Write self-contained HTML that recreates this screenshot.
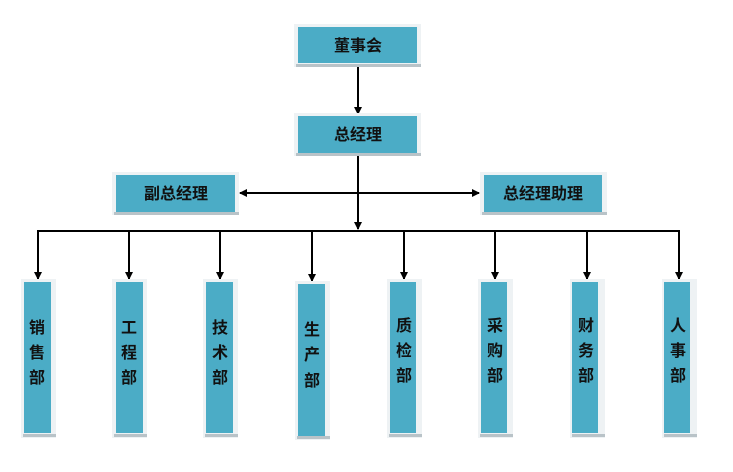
<!DOCTYPE html>
<html><head><meta charset="utf-8"><style>
html,body{margin:0;padding:0;background:#fff;}
svg{display:block;}
text{font-family:"Liberation Sans","Noto Sans CJK SC",sans-serif;font-weight:bold;fill:#111;}
</style></head><body>
<svg width="733" height="472" viewBox="0 0 733 472" xmlns="http://www.w3.org/2000/svg">
<defs>
<marker id="a" markerWidth="8" markerHeight="8" refX="7" refY="4" orient="auto" markerUnits="userSpaceOnUse">
<path d="M0,0 L8,4 L0,8 z" fill="#000"/></marker>
<g id="box"></g>
</defs>
<g stroke="#000" stroke-width="2" fill="none">
<line x1="358" y1="66" x2="358" y2="114" marker-end="url(#a)"/>
<line x1="358" y1="156" x2="358" y2="229" marker-end="url(#a)"/>
<line x1="358" y1="193" x2="240" y2="193" marker-end="url(#a)"/>
<line x1="358" y1="193" x2="479" y2="193" marker-end="url(#a)"/>
<polyline points="38,279 38,231 679,231 679,279" marker-end="url(#a)" marker-start="none"/>
<line x1="38" y1="231" x2="38" y2="279" marker-end="url(#a)"/>
<line x1="129" y1="231" x2="129" y2="279" marker-end="url(#a)"/>
<line x1="220" y1="231" x2="220" y2="279" marker-end="url(#a)"/>
<line x1="312" y1="231" x2="312" y2="281" marker-end="url(#a)"/>
<line x1="404" y1="231" x2="404" y2="279" marker-end="url(#a)"/>
<line x1="495" y1="231" x2="495" y2="279" marker-end="url(#a)"/>
<line x1="587" y1="231" x2="587" y2="279" marker-end="url(#a)"/>
</g>
<!-- top boxes -->
<g>
<rect x="294" y="24" width="127" height="43" fill="#eef2f4"/><rect x="296" y="64" width="125" height="3" fill="#b9c3c8"/>
<rect x="298" y="27" width="119" height="36" fill="#4bacc6"/>
<rect x="294" y="113" width="127" height="43" fill="#eef2f4"/><rect x="296" y="153" width="125" height="3" fill="#b9c3c8"/>
<rect x="298" y="116" width="119" height="37" fill="#4bacc6"/>
<rect x="112" y="172" width="127" height="43" fill="#eef2f4"/><rect x="114" y="212" width="125" height="3" fill="#b9c3c8"/>
<rect x="116" y="175" width="119" height="37" fill="#4bacc6"/>
<rect x="480" y="172" width="127" height="43" fill="#eef2f4"/><rect x="482" y="212" width="125" height="3" fill="#b9c3c8"/>
<rect x="484" y="175" width="118" height="37" fill="#4bacc6"/>
</g>
<text x="358" y="51" font-size="16" text-anchor="middle">董事会</text>
<text x="358" y="140" font-size="16" text-anchor="middle">总经理</text>
<text x="176" y="199" font-size="16" text-anchor="middle">副总经理</text>
<text x="543" y="199" font-size="16" text-anchor="middle">总经理助理</text>
<!-- departments -->
<g font-size="16" text-anchor="middle">
<g transform="translate(38,0)"><rect x="-17" y="279" width="35" height="159" fill="#eef2f4"/><rect x="-15" y="434" width="33" height="3" fill="#b9c3c8"/><rect x="-14" y="282" width="27" height="151" fill="#4bacc6"/>
<text x="-1" y="333">销</text><text x="-1" y="358">售</text><text x="-1" y="383">部</text></g>
<g transform="translate(129,0)"><rect x="-17" y="279" width="35" height="159" fill="#eef2f4"/><rect x="-15" y="434" width="33" height="3" fill="#b9c3c8"/><rect x="-13" y="282" width="27" height="151" fill="#4bacc6"/>
<text x="0" y="333">工</text><text x="0" y="358">程</text><text x="0" y="383">部</text></g>
<g transform="translate(220,0)"><rect x="-17" y="279" width="35" height="159" fill="#eef2f4"/><rect x="-15" y="434" width="33" height="3" fill="#b9c3c8"/><rect x="-14" y="282" width="27" height="151" fill="#4bacc6"/>
<text x="0" y="333">技</text><text x="0" y="358">术</text><text x="0" y="383">部</text></g>
<g transform="translate(312,0)"><rect x="-17" y="281" width="35" height="159" fill="#eef2f4"/><rect x="-15" y="436" width="33" height="3" fill="#b9c3c8"/><rect x="-14" y="284" width="27" height="152" fill="#4bacc6"/>
<text x="0" y="335">生</text><text x="0" y="360">产</text><text x="0" y="386">部</text></g>
<g transform="translate(404,0)"><rect x="-17" y="279" width="35" height="159" fill="#eef2f4"/><rect x="-15" y="434" width="33" height="3" fill="#b9c3c8"/><rect x="-14" y="282" width="26" height="151" fill="#4bacc6"/>
<text x="0" y="331">质</text><text x="0" y="356">检</text><text x="0" y="381">部</text></g>
<g transform="translate(495,0)"><rect x="-17" y="279" width="35" height="159" fill="#eef2f4"/><rect x="-15" y="434" width="33" height="3" fill="#b9c3c8"/><rect x="-14" y="282" width="26" height="151" fill="#4bacc6"/>
<text x="0" y="331">采</text><text x="0" y="356">购</text><text x="0" y="381">部</text></g>
<g transform="translate(587,0)"><rect x="-17" y="279" width="35" height="159" fill="#eef2f4"/><rect x="-15" y="434" width="33" height="3" fill="#b9c3c8"/><rect x="-15" y="282" width="26" height="151" fill="#4bacc6"/>
<text x="-1" y="331">财</text><text x="-1" y="356">务</text><text x="-1" y="381">部</text></g>
<g transform="translate(679,0)"><rect x="-17" y="279" width="35" height="159" fill="#eef2f4"/><rect x="-15" y="434" width="33" height="3" fill="#b9c3c8"/><rect x="-15" y="282" width="26" height="151" fill="#4bacc6"/>
<text x="-1" y="331">人</text><text x="-1" y="356">事</text><text x="-1" y="381">部</text></g>
</g>
</svg>
</body></html>
